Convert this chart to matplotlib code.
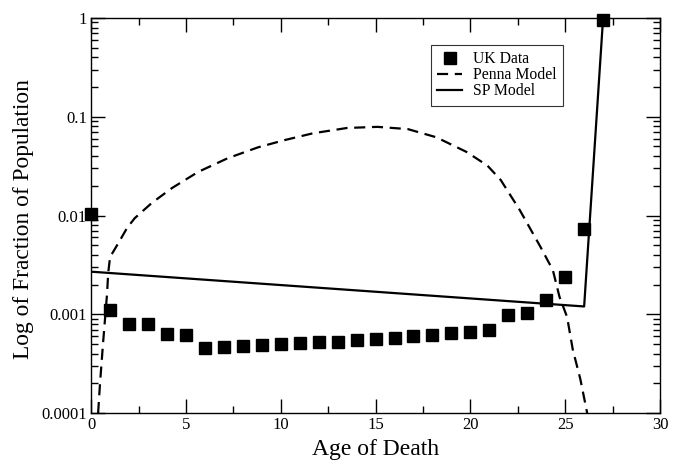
import numpy as np
import matplotlib.pyplot as plt
from matplotlib.ticker import MultipleLocator, FixedLocator, FixedFormatter, LogLocator, NullFormatter

# UK data (fraction of population dying at each age)
uk_age = np.arange(0, 28)
uk_frac = [0.0104, 0.0011, 0.00080, 0.00079, 0.00063, 0.00062, 0.00046, 0.00047,
           0.00048, 0.00049, 0.00050, 0.00051, 0.00052, 0.00053, 0.00055, 0.00056,
           0.00058, 0.00060, 0.00062, 0.00064, 0.00066, 0.00070, 0.00098, 0.00103,
           0.0014, 0.0024, 0.0073, 0.95]

# Penna model curve
penna_age = [0.37, 0.47, 0.63, 0.84, 0.9, 1.0, 1.37, 1.9, 2.3, 3.2, 4.27, 5.64, 7.2,
             8.8, 10.2, 11.7, 13.5, 15.1, 16.7, 18.2, 19.8, 20.9, 21.6, 22.6, 23.7,
             24.35, 24.7, 25.1, 25.4, 25.8, 26.16]
penna_frac = [0.0001, 0.0002, 0.00051, 0.0016, 0.0026, 0.0038, 0.0050, 0.0075, 0.0094,
              0.0134, 0.019, 0.0276, 0.038, 0.049, 0.058, 0.068, 0.077, 0.079, 0.075,
              0.062, 0.044, 0.032, 0.0229, 0.0114, 0.0048, 0.0028, 0.0015, 0.00094,
              0.00044, 0.00022, 0.0001]

# SP model
sp_age = [0, 26, 27]
sp_frac = [0.0027, 0.0012, 1.0]

plt.rcParams['font.family'] = ['Liberation Serif', 'DejaVu Serif']

fig = plt.figure(figsize=(6.85, 4.61), dpi=100)
ax = fig.add_axes([0.133, 0.104, 0.8305, 0.857])

ax.plot(uk_age, uk_frac, 's', color='black', markersize=9, label='UK Data', clip_on=False, zorder=5)
ax.plot(penna_age, penna_frac, color='black', lw=1.6, dashes=(5, 3), label='Penna Model')
ax.plot(sp_age, sp_frac, color='black', lw=1.6, label='SP Model')

ax.set_yscale('log')
ax.set_xlim(0, 30)
ax.set_ylim(0.0001, 1)

ax.xaxis.set_major_locator(MultipleLocator(5))
ax.xaxis.set_minor_locator(MultipleLocator(2.5))
yt = [0.0001, 0.001, 0.01, 0.1, 1]
ax.yaxis.set_major_locator(FixedLocator(yt))
ax.yaxis.set_major_formatter(FixedFormatter(['0.0001', '0.001', '0.01', '0.1', '1']))
ax.yaxis.set_minor_locator(LogLocator(base=10, subs=np.arange(2, 10)))
ax.yaxis.set_minor_formatter(NullFormatter())

ax.tick_params(which='both', direction='in', top=True, right=True, labelsize=12, pad=3)
ax.tick_params(which='major', length=10, width=1)
ax.tick_params(which='minor', length=5, width=1)
for s in ax.spines.values():
    s.set_linewidth(1)

ax.set_xlabel('Age of Death', fontsize=17, labelpad=4)
ax.set_ylabel('Log of Fraction of Population', fontsize=16.8)
ax.yaxis.set_label_coords(-0.1, 0.49)

leg = ax.legend(loc='upper left', bbox_to_anchor=(0.5975, 0.9316), borderaxespad=0,
                fontsize=11.3, frameon=True, fancybox=False, handlelength=1.6,
                borderpad=0.4, labelspacing=0.0, handletextpad=0.7)
leg.get_frame().set_edgecolor('black')
leg.get_frame().set_linewidth(0.8)

fig.savefig('out.png', dpi=100)
